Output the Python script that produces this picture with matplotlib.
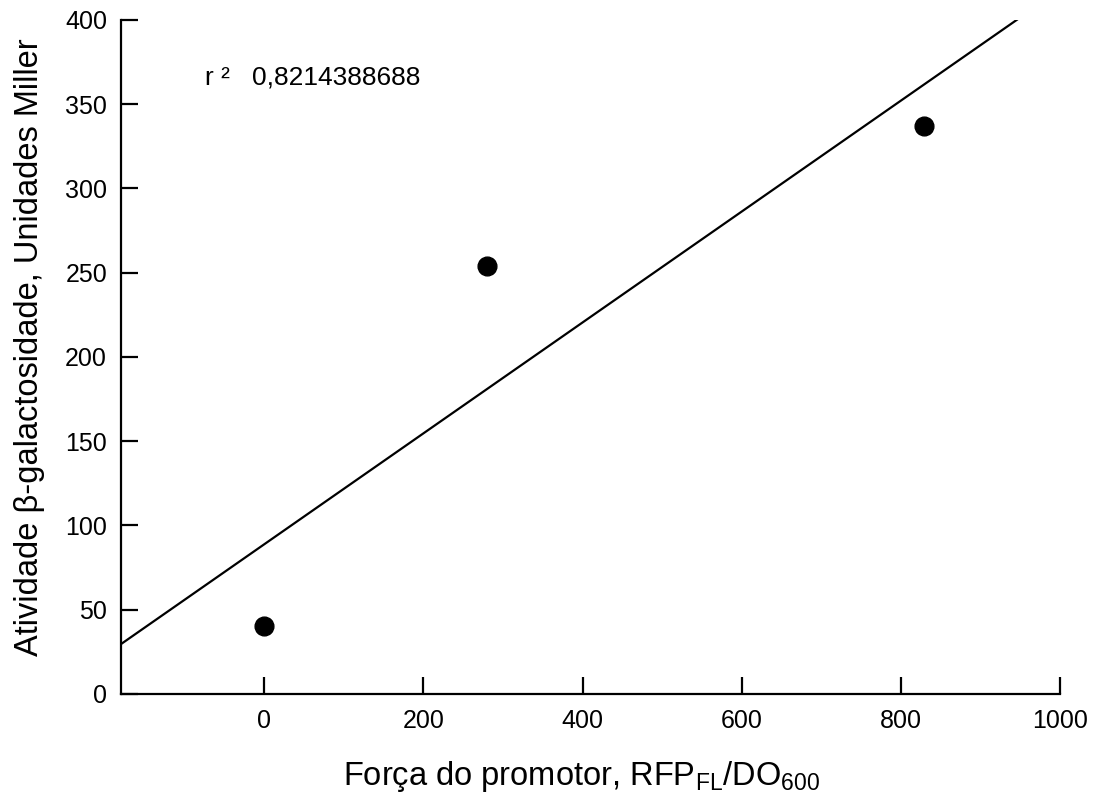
import numpy as np
import matplotlib
matplotlib.use("Agg")
import matplotlib.pyplot as plt

plt.rcParams['font.family'] = ['Liberation Sans', 'DejaVu Sans']
plt.rcParams['mathtext.fontset'] = 'custom'
plt.rcParams['mathtext.rm'] = 'Liberation Sans'
plt.rcParams['mathtext.it'] = 'Liberation Sans:italic'

# dados
forca_promotor = [0, 280, 829]
atividade_beta = [40.5, 254, 337]
r2_texto = "r \u00b2   0,8214388688"

x_ticks = [0, 200, 400, 600, 800, 1000]
y_ticks = [0, 50, 100, 150, 200, 250, 300, 350, 400]

fig = plt.figure(figsize=(10.97, 8.05), dpi=100)
ax = fig.add_axes([0.1103, 0.1379, 0.8560, 0.8373])

# regressão linear
coef = np.polyfit(forca_promotor, atividade_beta, 1)
x_linha = np.array([-180, 1000])
ax.plot(x_linha, np.polyval(coef, x_linha), color='black', linewidth=1.6)

ax.plot(forca_promotor, atividade_beta, 'o', color='black', markersize=13.5)

ax.set_xlim(-180, 1000)
ax.set_ylim(0, 400)
ax.set_xticks(x_ticks)
ax.set_yticks(y_ticks)

for s in ['top', 'right']:
    ax.spines[s].set_visible(False)
for s in ['left', 'bottom']:
    ax.spines[s].set_linewidth(1.6)

ax.tick_params(direction='in', length=12, width=1.6, labelsize=18)
ax.tick_params(axis='x', pad=11)
ax.tick_params(axis='y', pad=10)

ax.text(0.0895, 0.9036, r2_texto, transform=ax.transAxes, fontsize=19,
        va='baseline', ha='left')

ax.set_xlabel(r'Força do promotor, RFP$_{\mathrm{FL}}$/DO$_{\mathrm{600}}$', fontsize=23.5)
ax.set_ylabel('Atividade β-galactosidade, Unidades Miller', fontsize=23.5)
ax.xaxis.set_label_coords(0.49, -0.096)
ax.yaxis.set_label_coords(-0.081, 0.515)

fig.savefig("out.png", dpi=100)
